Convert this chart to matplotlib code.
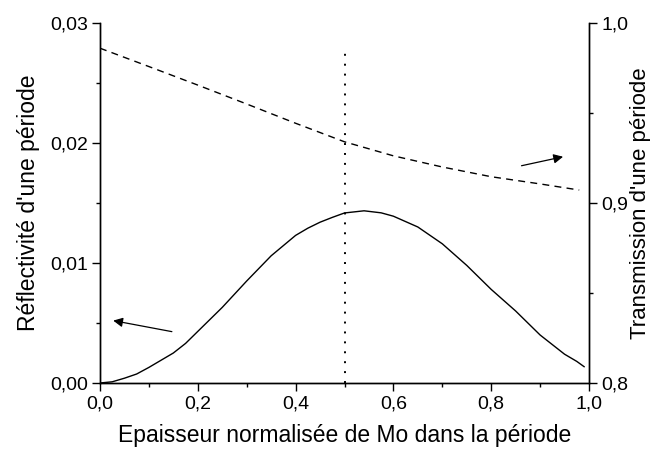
import matplotlib
matplotlib.use("Agg")
import matplotlib.pyplot as plt
from matplotlib.ticker import FuncFormatter, MultipleLocator

plt.rcParams['font.family'] = ['Liberation Sans', 'DejaVu Sans']

# Reflectivity of one period (left axis)
x_refl = [0.0, 0.025, 0.05, 0.075, 0.1, 0.125, 0.15, 0.175, 0.2, 0.25, 0.3,
          0.35, 0.4, 0.425, 0.45, 0.475, 0.5, 0.54, 0.575, 0.6, 0.625, 0.65,
          0.7, 0.75, 0.8, 0.85, 0.9, 0.95, 0.975, 0.99]
refl = [0.0, 0.0001, 0.0004, 0.00075, 0.0013, 0.0019, 0.0025, 0.0033, 0.0043,
        0.0063, 0.0085, 0.0106, 0.0123, 0.0129, 0.0134, 0.0138, 0.01417,
        0.01435, 0.01418, 0.0139, 0.01345, 0.0130, 0.0116, 0.0098, 0.0078,
        0.0060, 0.0040, 0.0024, 0.0018, 0.00136]

# Transmission of one period (right axis)
x_trans = [0.0, 0.1, 0.2, 0.3, 0.4, 0.5, 0.6, 0.7, 0.8, 0.9, 0.98]
trans = [0.986, 0.9758, 0.9655, 0.955, 0.9443, 0.934, 0.9262, 0.9200,
         0.9146, 0.9106, 0.9072]

x_mark = 0.5
mark_top = 0.0277

def comma(fmt):
    return FuncFormatter(lambda v, p: (fmt % v).replace('.', ','))

fig = plt.figure(figsize=(6.53, 4.5), dpi=100)
ax = fig.add_axes([100 / 653, 1 - 383 / 450, 489 / 653, 360 / 450])
ax2 = ax.twinx()

ax.plot(x_refl, refl, color='black', lw=1.0)
ax.plot([x_mark, x_mark], [0, mark_top], color='black', lw=1.4, linestyle=(0, (1, 4.1)))
ax2.plot(x_trans, trans, color='black', lw=1.0, linestyle=(0, (5, 3.8)))

# arrows
ax.annotate('', xy=(0.027, 0.0052), xytext=(0.147, 0.00428),
            arrowprops=dict(arrowstyle='-|>', color='black', lw=0.9,
                            mutation_scale=14, shrinkA=0, shrinkB=0))
ax2.annotate('', xy=(0.947, 0.9257), xytext=(0.862, 0.9207),
             arrowprops=dict(arrowstyle='-|>', color='black', lw=0.9,
                             mutation_scale=14, shrinkA=0, shrinkB=0))

ax.set_xlim(0, 1)
ax.set_ylim(0, 0.03)
ax2.set_ylim(0.8, 1.0)

ax.xaxis.set_major_locator(MultipleLocator(0.2))
ax.xaxis.set_minor_locator(MultipleLocator(0.1))
ax.yaxis.set_major_locator(MultipleLocator(0.01))
ax.yaxis.set_minor_locator(MultipleLocator(0.005))
ax2.yaxis.set_major_locator(MultipleLocator(0.1))
ax2.yaxis.set_minor_locator(MultipleLocator(0.05))

ax.xaxis.set_major_formatter(comma('%.1f'))
ax.yaxis.set_major_formatter(comma('%.2f'))
ax2.yaxis.set_major_formatter(comma('%.1f'))

for a in (ax, ax2):
    a.spines['top'].set_visible(False)
    for s in a.spines.values():
        s.set_linewidth(1.0)
    a.tick_params(which='major', direction='out', length=5.8, width=1.0, labelsize=14, pad=3)
    a.tick_params(which='minor', direction='out', length=3, width=1.0)

ax.set_xlabel('Epaisseur normalisée de Mo dans la période', fontsize=16.5, labelpad=8.5)
ax.set_ylabel("Réflectivité d'une période", fontsize=16.5, labelpad=7)
ax2.set_ylabel("Transmission d'une période", fontsize=16, labelpad=1)

fig.savefig('out.png', dpi=100)
